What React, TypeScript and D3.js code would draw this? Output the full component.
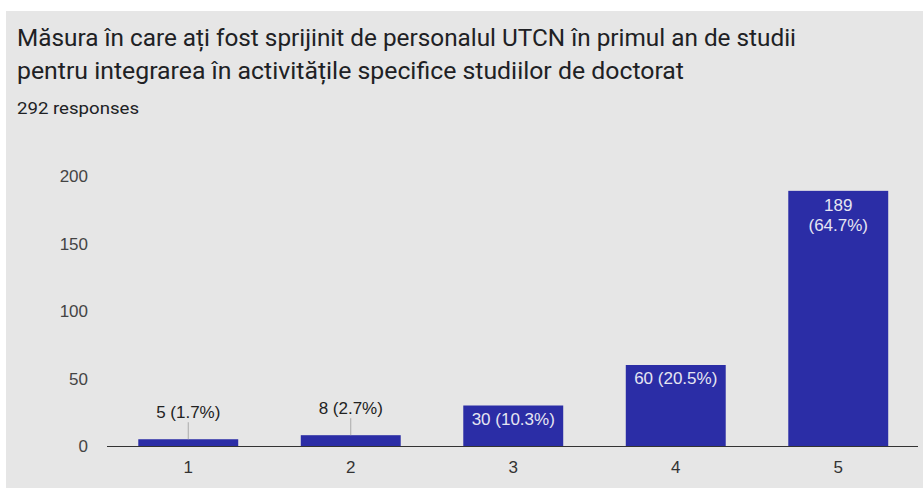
import React from "react";
import * as d3 from "d3";

const categories = ["1", "2", "3", "4", "5"];
const counts = [5, 8, 30, 60, 189];
const percents = ["1.7%", "2.7%", "10.3%", "20.5%", "64.7%"];
const yTicks = [0, 50, 100, 150, 200];
const titleLines = [
  "Măsura în care ați fost sprijinit de personalul UTCN în primul an de studii",
  "pentru integrarea în activitățile specifice studiilor de doctorat",
];
const subtitle = "292 responses";

const W = 923;
const H = 488;
const LBL = "'Liberation Sans', Arial, sans-serif";
const TTL = "Roboto, 'Noto Sans', sans-serif";

export default function App() {
  const x = d3.scaleBand<string>().domain(categories).range([107, 919.5]).paddingInner(0.385).paddingOuter(0.1925);
  const y = d3.scaleLinear().domain([0, 200]).range([446, 176]);
  const bw = x.bandwidth();
  const titleWidths = [779, 667];
  return (
    <svg width={W} height={H} style={{ position: "absolute", left: 0, top: 0, display: "block" }}>
      <rect x={0} y={0} width={W} height={H} fill="#ffffff" />
      <rect x={6} y={11} width={W - 6} height={H - 11} fill="#e6e6e6" />
      {titleLines.map((t, i) => (
        <text key={i} x={17} y={46 + i * 33} fontFamily={TTL} fontSize={23} fill="#202124" textLength={titleWidths[i]} lengthAdjust="spacingAndGlyphs">
          {t}
        </text>
      ))}
      <text x={17} y={114} fontFamily={TTL} fontSize={16} fill="#202124" textLength={122} lengthAdjust="spacingAndGlyphs">
        {subtitle}
      </text>
      {yTicks.map((t) => (
        <text key={t} x={88} y={y(t) + 6} textAnchor="end" fontFamily={LBL} fontSize={17} fill="#444">
          {t}
        </text>
      ))}
      {categories.map((c, i) => {
        const v = counts[i];
        const bx = x(c)!;
        const cx = bx + bw / 2;
        const top = y(v);
        const label = `${v} (${percents[i]})`;
        return (
          <g key={c}>
            <rect x={bx} y={top} width={bw} height={y(0) - top} fill="#2b2da6" />
            {v < 20 ? (
              <>
                <line x1={cx} x2={cx} y1={top} y2={top - 17} stroke="#aaaaaa" strokeWidth={1} />
                <text x={cx} y={top - 21} textAnchor="middle" fontFamily={LBL} fontSize={17} fill="#222">
                  {label}
                </text>
              </>
            ) : v > 150 ? (
              <>
                <text x={cx} y={top + 20} textAnchor="middle" fontFamily={LBL} fontSize={17} fill="#e6e6f2">
                  {String(v)}
                </text>
                <text x={cx} y={top + 40} textAnchor="middle" fontFamily={LBL} fontSize={17} fill="#e6e6f2">
                  {`(${percents[i]})`}
                </text>
              </>
            ) : (
              <text x={cx} y={top + 19} textAnchor="middle" fontFamily={LBL} fontSize={17} fill="#e6e6f2">
                {label}
              </text>
            )}
            <text x={cx} y={473} textAnchor="middle" fontFamily={LBL} fontSize={17} fill="#333">
              {c}
            </text>
          </g>
        );
      })}
      <line x1={107} x2={918} y1={y(0) + 0.5} y2={y(0) + 0.5} stroke="#333" strokeWidth={1.2} />
    </svg>
  );
}
